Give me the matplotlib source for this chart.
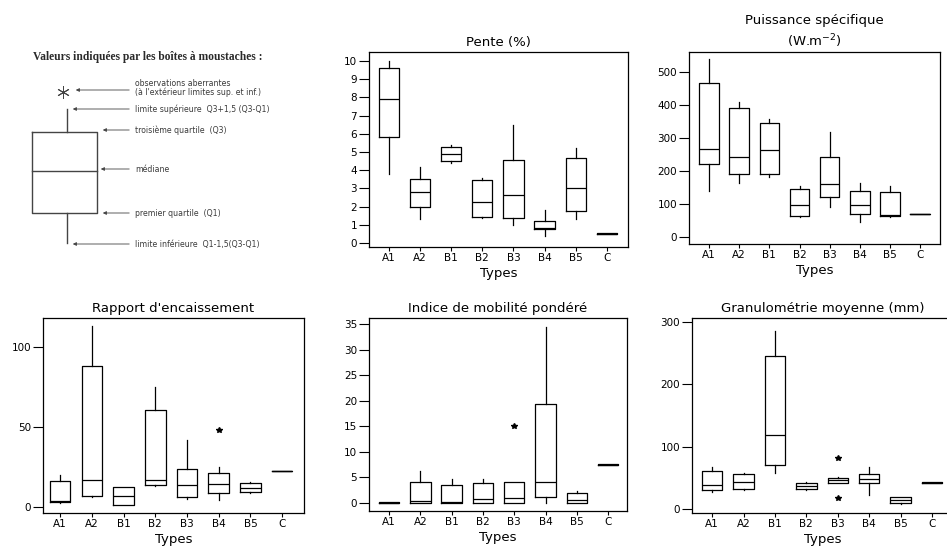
import matplotlib
matplotlib.use('Agg')
import matplotlib.pyplot as plt

W, H = 947, 556

types = ['A1', 'A2', 'B1', 'B2', 'B3', 'B4', 'B5', 'C']

# five-number summaries per type: (whislo, q1, med, q3, whishi)
pente = [(3.8, 5.85, 7.9, 9.6, 10.0), (1.3, 2.0, 2.8, 3.5, 4.2),
         (4.4, 4.5, 4.9, 5.3, 5.4), (1.4, 1.45, 2.25, 3.45, 3.6),
         (1.0, 1.35, 2.65, 4.55, 6.5), (0.4, 0.75, 0.8, 1.2, 1.8),
         (1.3, 1.75, 3.0, 4.65, 5.2), (0.47, 0.47, 0.5, 0.53, 0.53)]
pente_fliers = {}

puissance = [(140, 220, 265, 465, 540), (165, 192, 242, 392, 410),
             (182, 192, 262, 345, 358), (62, 65, 97, 145, 155),
             (90, 122, 160, 242, 318), (45, 70, 98, 138, 163),
             (62, 63, 68, 135, 155), (70, 70, 70, 70, 70)]
puissance_fliers = {}

rapport = [(2.5, 3, 4, 16.5, 20), (6, 7, 17, 88, 113),
           (1, 1.5, 7, 12.5, 12.5), (13, 14, 17, 60.5, 75),
           (5, 6, 14, 24, 42), (4.5, 8.5, 14.5, 21, 25),
           (9, 9.5, 12, 15, 15.5), (22.5, 22.5, 22.5, 22.5, 22.5)]
rapport_fliers = {'B4': [48]}

indice = [(0, 0, 0, 0.12, 0.12), (0, 0.05, 0.3, 4.1, 6.2),
          (0, 0, 0.2, 3.6, 4.7), (0, 0, 0.8, 4.0, 4.7),
          (0, 0.05, 1.0, 4.1, 4.1), (0, 1.2, 4.2, 19.3, 34.5),
          (0, 0.05, 0.5, 2.0, 2.4), (7.4, 7.4, 7.5, 7.6, 7.6)]
indice_fliers = {'B3': [15]}

granulo = [(27, 30, 38, 61, 68), (30, 32, 43, 56, 57),
           (57, 71, 118, 245, 285), (31, 32, 37, 41, 43),
           (41, 42, 47, 50, 52), (22, 41, 48, 56, 68),
           (8, 9, 14, 19, 20), (41.5, 41.5, 42, 42.5, 42.5)]
granulo_fliers = {'B3': [82, 17]}

panels = [
    # data, fliers, title, rect px (l, t, r, b), xlim, ylim, yticks
    (pente, pente_fliers, 'Pente (%)', (369, 52, 628, 247),
     (0.357, 8.68), (-0.22, 10.5), range(0, 11)),
    (puissance, puissance_fliers, 'Puissance spécifique\n(W.m$^{-2}$)', (689, 52, 940, 244),
     (0.335, 8.66), (-21, 560), range(0, 501, 100)),
    (rapport, rapport_fliers, "Rapport d'encaissement", (43, 318, 304, 513),
     (0.46, 8.69), (-3.75, 118), [0, 50, 100]),
    (indice, indice_fliers, 'Indice de mobilité pondéré', (369, 318, 627, 511),
     (0.36, 8.6), (-1.56, 36.2), range(0, 36, 5)),
    (granulo, granulo_fliers, 'Granulométrie moyenne (mm)', (692, 318, 954, 513),
     (0.36, 8.7), (-6.4, 306), [0, 100, 200, 300]),
]

fig = plt.figure(figsize=(W / 100, H / 100), dpi=100)

# legend diagram drawn in pixel coordinates
dax = fig.add_axes([0, 0, 1, 1])
dax.set_xlim(0, W)
dax.set_ylim(H, 0)
dax.axis('off')
gray = '#444444'
dax.text(33, 57, 'Valeurs indiquées par les boîtes à moustaches :', fontsize=8.3,
         fontweight='bold', family='Liberation Serif', va='center', color='#2a2a2a')
dax.plot([32, 97, 97, 32, 32], [132, 132, 213, 213, 132], color=gray, lw=1.0)
dax.plot([32, 97], [171, 171], color=gray, lw=1.0)
dax.plot([67, 67], [109, 132], color=gray, lw=1.0)
dax.plot([67, 67], [213, 243], color=gray, lw=1.0)
dax.plot([63], [92], marker=(6, 2, 0), ms=9, mew=0.7, color=gray)
notes = [(73, 90, ['observations aberrantes', "(à l'extérieur limites sup. et inf.)"]),
         (70, 109, ['limite supérieure  Q3+1,5 (Q3-Q1)']),
         (100, 130, ['troisième quartile  (Q3)']),
         (98, 169, ['médiane']),
         (100, 213, ['premier quartile  (Q1)']),
         (70, 244, ['limite inférieure  Q1-1,5(Q3-Q1)'])]
for tip_x, yy, lines in notes:
    dax.annotate('', xy=(tip_x, yy), xytext=(132, yy),
                 arrowprops=dict(arrowstyle='-|>', lw=0.6, color=gray, mutation_scale=5))
    if len(lines) == 2:
        dax.text(135, yy - 7, lines[0], fontsize=5.6, color='#3a3a3a', va='center')
        dax.text(135, yy + 2, lines[1], fontsize=5.6, color='#3a3a3a', va='center')
    else:
        dax.text(135, yy, lines[0], fontsize=5.6, color='#3a3a3a', va='center')

for data, fliers, title, (l, t, r, b), xlim, ylim, yticks in panels:
    ax = fig.add_axes([l / W, 1 - b / H, (r - l) / W, (b - t) / H])
    stats = []
    for name, (lo, q1, med, q3, hi) in zip(types, data):
        stats.append(dict(whislo=lo, q1=q1, med=med, q3=q3, whishi=hi,
                          fliers=fliers.get(name, [])))
    lp = dict(color='black', lw=0.9)
    ax.bxp(stats, positions=range(1, 9), widths=0.65, showcaps=False,
           boxprops=lp, whiskerprops=lp, medianprops=lp,
           flierprops=dict(marker='*', ms=4, mfc='black', mec='black'))
    ax.set_xlim(*xlim)
    ax.set_ylim(*ylim)
    ax.set_xticks(range(1, 9))
    ax.set_xticklabels(types)
    ax.set_yticks(list(yticks))
    ax.tick_params(axis='y', length=7, width=0.8, labelsize=7.5, pad=1.5)
    ax.tick_params(axis='x', length=3, width=0.8, labelsize=7.5, pad=1.5)
    for sp in ax.spines.values():
        sp.set_linewidth(0.9)
    ax.set_title(title, fontsize=9.5, pad=4, linespacing=1.4)
    ax.set_xlabel('Types', fontsize=9.5, labelpad=2.5)

fig.savefig('out.png', dpi=100)
